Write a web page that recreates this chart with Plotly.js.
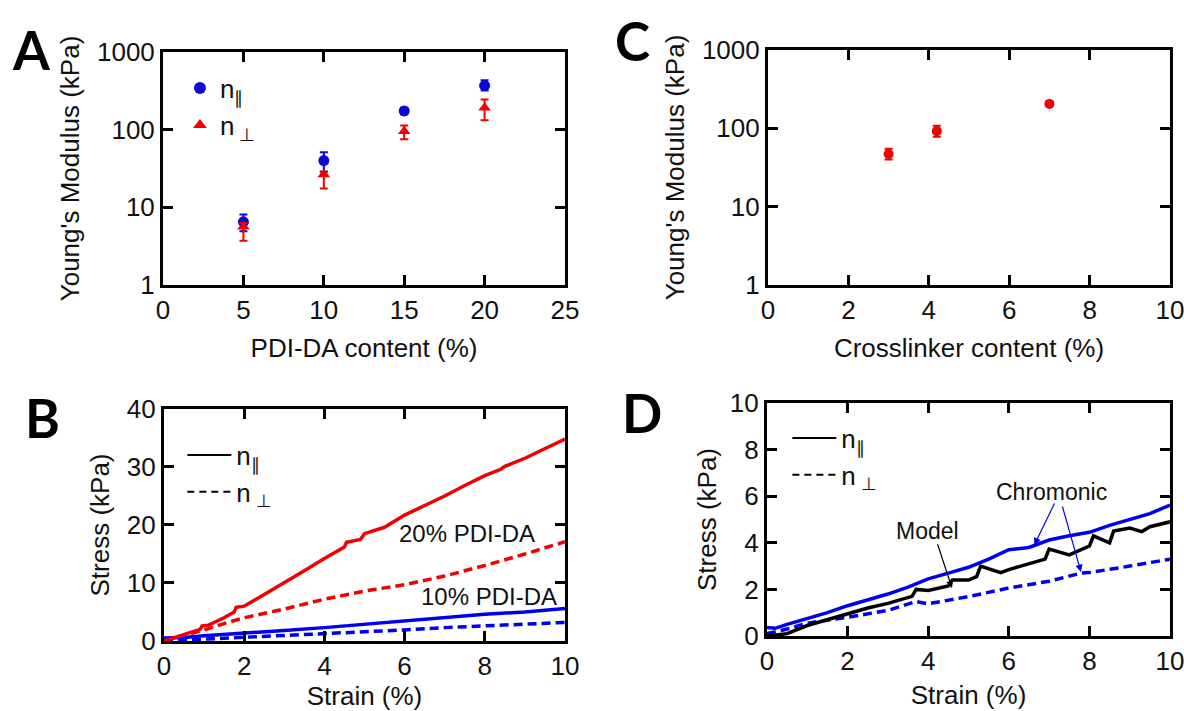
<!DOCTYPE html>
<html>
<head>
<meta charset="utf-8">
<script src="https://cdn.plot.ly/plotly-3.0.1.min.js"></script>
<style>
html,body{margin:0;padding:0;background:#fff;}
#chart{width:1184px;height:711px;}
</style>
</head>
<body>
<div id="chart"></div>
<script>
// ---------- Panel A: Young's modulus vs PDI-DA content ----------
const pdiContent = [5, 10, 15, 20];
const modParallel = [6.5, 40, 174, 370];
const modParallelHi = [8.1, 51, 192, 432];
const modParallelLo = [4.9, 29, 158, 318];
const modPerp = [5.6, 26.5, 95, 192];
const modPerpHi = [6.3, 28.5, 113, 245];
const modPerpLo = [3.7, 17.5, 75, 132];

// ---------- Panel C: Young's modulus vs crosslinker content ----------
const crossContent = [3.0, 4.2, 7.0];
const crossMod = [47, 92, 205];
const crossModHi = [55, 108, 212];
const crossModLo = [40, 78, 198];

// ---------- Panel B: stress-strain, PDI-DA ----------
const strainB20par = [0, 0.3, 0.6, 0.9, 0.95, 1.1, 1.5, 1.75, 1.8, 2.0, 2.5, 3.0, 3.5, 4.0, 4.5, 4.55, 4.9, 5.0, 5.5, 6.0, 6.5, 7.0, 7.5, 8.0, 8.4, 8.5, 9.0, 9.5, 10.0];
const stressB20par = [0, 0.7, 1.4, 2.0, 2.6, 2.7, 4.0, 5.0, 5.8, 6.0, 8.0, 10.0, 12.1, 14.2, 16.2, 17.0, 17.5, 18.5, 19.6, 21.7, 23.3, 25.0, 26.8, 28.5, 29.6, 30.1, 31.5, 33.2, 34.8];
const strainB20perp = [0, 0.5, 1.0, 1.5, 2.0, 3.0, 4.0, 5.0, 6.0, 7.0, 8.0, 9.0, 10.0];
const stressB20perp = [0, 0.9, 1.9, 3.0, 4.0, 5.5, 7.2, 8.6, 9.7, 11.2, 13.0, 15.0, 17.1];
const strainB10par = [0, 0.5, 1, 2, 3, 4, 5, 6, 7, 8, 9, 10];
const stressB10par = [0.5, 0.6, 0.9, 1.3, 1.8, 2.3, 2.9, 3.5, 4.0, 4.6, 5.0, 5.6];
const strainB10perp = [0, 1, 2, 3, 4, 5, 6, 7, 8, 9, 10];
const stressB10perp = [0, 0.3, 0.6, 0.95, 1.3, 1.6, 1.9, 2.3, 2.6, 2.9, 3.2];

// ---------- Panel D: chromonic vs model ----------
const strainDchrPar = [0, 0.2, 0.5, 1.0, 1.5, 2.0, 2.5, 3.0, 3.5, 4.0, 4.5, 5.0, 5.5, 6.0, 6.5, 7.0, 7.5, 8.0, 8.5, 9.0, 9.5, 10.0];
const stressDchrPar = [0.37, 0.33, 0.5, 0.75, 1.0, 1.3, 1.55, 1.8, 2.1, 2.45, 2.7, 2.95, 3.3, 3.7, 3.8, 4.12, 4.3, 4.45, 4.75, 5.0, 5.25, 5.62];
const strainDmodel = [0, 0.5, 1.0, 1.5, 2.0, 2.5, 3.0, 3.6, 3.7, 4.0, 4.5, 4.6, 5.0, 5.2, 5.3, 5.8, 6.0, 6.5, 6.9, 7.0, 7.5, 8.0, 8.1, 8.5, 8.6, 9.0, 9.3, 9.5, 10.0];
const stressDmodel = [0, 0.1, 0.45, 0.7, 0.95, 1.2, 1.4, 1.7, 2.0, 1.95, 2.15, 2.4, 2.4, 2.55, 3.0, 2.72, 2.85, 3.1, 3.3, 3.73, 3.48, 3.86, 4.3, 4.0, 4.5, 4.63, 4.48, 4.69, 4.9];
const strainDchrPerp = [0, 0.5, 1.0, 2.0, 3.0, 3.7, 4.0, 5.0, 6.0, 7.0, 7.8, 8.0, 9.0, 10.0];
const stressDchrPerp = [0.1, 0.3, 0.55, 0.8, 1.1, 1.48, 1.38, 1.69, 2.06, 2.35, 2.7, 2.72, 3.0, 3.3];

const logTickVals = [1, 10, 100, 1000];
const logTickText = ['1', '10', '100', '1000'];

const RED = '#f00000';
const BLUE = '#0000f0';
const DBLUE = '#0a0ad0';
const FONT = 'Liberation Sans, Arial, sans-serif';
const DASH = '9px,5px';
const LETTERFONT = {family: 'Lato, Liberation Sans, sans-serif', size: 53, color: '#000'};

function plus(v, hi) { return hi.map((h, i) => h - v[i]); }
function minus(v, lo) { return lo.map((l, i) => v[i] - l); }

const traces = [
  // A
  {x: pdiContent, y: modParallel, xaxis: 'x', yaxis: 'y', type: 'scatter', mode: 'markers',
   name: 'n<sub>∥</sub>', legend: 'legend',
   marker: {color: DBLUE, symbol: 'circle', size: 11},
   error_y: {type: 'data', symmetric: false, array: plus(modParallel, modParallelHi), arrayminus: minus(modParallel, modParallelLo), color: DBLUE, thickness: 2, width: 4}},
  {x: pdiContent, y: modPerp, xaxis: 'x', yaxis: 'y', type: 'scatter', mode: 'markers',
   name: 'n<sub> ⊥</sub>', legend: 'legend',
   marker: {color: RED, symbol: 'triangle-up', size: 11},
   error_y: {type: 'data', symmetric: false, array: plus(modPerp, modPerpHi), arrayminus: minus(modPerp, modPerpLo), color: RED, thickness: 2, width: 4}},
  // C
  {x: crossContent, y: crossMod, xaxis: 'x2', yaxis: 'y2', type: 'scatter', mode: 'markers', showlegend: false,
   marker: {color: RED, symbol: 'circle', size: 10},
   error_y: {type: 'data', symmetric: false, array: plus(crossMod, crossModHi), arrayminus: minus(crossMod, crossModLo), color: RED, thickness: 2, width: 4}},
  // B
  {x: strainB20perp, y: stressB20perp, xaxis: 'x3', yaxis: 'y3', mode: 'lines', showlegend: false,
   line: {color: RED, width: 3.5, dash: DASH}},
  {x: strainB10perp, y: stressB10perp, xaxis: 'x3', yaxis: 'y3', mode: 'lines', showlegend: false,
   line: {color: BLUE, width: 3.5, dash: DASH}},
  {x: strainB10par, y: stressB10par, xaxis: 'x3', yaxis: 'y3', mode: 'lines', showlegend: false,
   line: {color: BLUE, width: 3.5}},
  {x: strainB20par, y: stressB20par, xaxis: 'x3', yaxis: 'y3', mode: 'lines', showlegend: false,
   line: {color: RED, width: 3.5}},
  {x: [null], y: [null], xaxis: 'x3', yaxis: 'y3', mode: 'lines', name: 'n<sub>∥</sub>', legend: 'legend2',
   line: {color: '#000', width: 2}},
  {x: [null], y: [null], xaxis: 'x3', yaxis: 'y3', mode: 'lines', name: 'n<sub> ⊥</sub>', legend: 'legend2',
   line: {color: '#000', width: 2, dash: '7px,5px'}},
  // D
  {x: strainDchrPerp, y: stressDchrPerp, xaxis: 'x4', yaxis: 'y4', mode: 'lines', showlegend: false,
   line: {color: BLUE, width: 3.5, dash: DASH}},
  {x: strainDmodel, y: stressDmodel, xaxis: 'x4', yaxis: 'y4', mode: 'lines', showlegend: false,
   line: {color: '#000', width: 3.5}},
  {x: strainDchrPar, y: stressDchrPar, xaxis: 'x4', yaxis: 'y4', mode: 'lines', showlegend: false,
   line: {color: BLUE, width: 3.5}},
  {x: [null], y: [null], xaxis: 'x4', yaxis: 'y4', mode: 'lines', name: 'n<sub>∥</sub>', legend: 'legend3',
   line: {color: '#000', width: 2}},
  {x: [null], y: [null], xaxis: 'x4', yaxis: 'y4', mode: 'lines', name: 'n<sub> ⊥</sub>', legend: 'legend3',
   line: {color: '#000', width: 2, dash: '7px,5px'}}
];

function axisBase(extra) {
  return Object.assign({
    showline: true, linewidth: 3, linecolor: '#000', mirror: 'ticks',
    ticks: 'inside', ticklen: 10, tickwidth: 3, tickcolor: '#000',
    showgrid: false, zeroline: false, automargin: false,
    ticklabeloverflow: 'allow',
    tickfont: {family: FONT, size: 26, color: '#111'},
    fixedrange: true
  }, extra);
}
function ttl(text, standoff) {
  return {text: text, font: {family: FONT, size: 26, color: '#111'}, standoff: standoff};
}

const legendFont = {family: FONT, size: 26, color: '#111'};

const layout = {
  width: 1184, height: 711,
  margin: {l: 0, r: 0, t: 0, b: 0},
  paper_bgcolor: '#fff', plot_bgcolor: '#fff',
  font: {family: FONT, size: 24, color: '#111'},
  showlegend: true,
  // A
  xaxis: axisBase({domain: [0.1377, 0.4772], anchor: 'y', range: [0, 25], dtick: 5, tick0: 0,
    title: ttl('PDI-DA content (%)', 15)}),
  yaxis: axisBase({domain: [0.5992, 0.9269], anchor: 'x', type: 'log', range: [0, 3],
    tickvals: logTickVals, ticktext: logTickText, title: ttl("Young's Modulus (kPa)", 10)}),
  // C
  xaxis2: axisBase({domain: [0.6486, 0.9882], anchor: 'y2', range: [0, 10], dtick: 2, tick0: 0,
    title: ttl('Crosslinker content (%)', 15)}),
  yaxis2: axisBase({domain: [0.5992, 0.9297], anchor: 'x2', type: 'log', range: [0, 3],
    tickvals: logTickVals, ticktext: logTickText, title: ttl("Young's Modulus (kPa)", 10)}),
  // B
  xaxis3: axisBase({domain: [0.1385, 0.4772], anchor: 'y3', range: [0, 10], dtick: 2, tick0: 0,
    title: ttl('Strain (%)', 17)}),
  yaxis3: axisBase({domain: [0.0985, 0.4248], anchor: 'x3', range: [0, 40], dtick: 10, tick0: 0,
    title: ttl('Stress (kPa)', 10)}),
  // D
  xaxis4: axisBase({domain: [0.6478, 0.9882], anchor: 'y4', range: [0, 10], dtick: 2, tick0: 0,
    title: ttl('Strain (%)', 11)}),
  yaxis4: axisBase({domain: [0.1055, 0.4332], anchor: 'x4', range: [0, 10], dtick: 2, tick0: 0,
    title: ttl('Stress (kPa)', 6)}),
  legend: {x: 0.152, y: 0.909, xanchor: 'left', yanchor: 'top', bgcolor: 'rgba(0,0,0,0)',
    font: legendFont, tracegroupgap: 0, itemsizing: 'constant'},
  legend2: {x: 0.154, y: 0.393, xanchor: 'left', yanchor: 'top', bgcolor: 'rgba(0,0,0,0)',
    font: legendFont, tracegroupgap: 0, itemwidth: 44},
  legend3: {x: 0.665, y: 0.417, xanchor: 'left', yanchor: 'top', bgcolor: 'rgba(0,0,0,0)',
    font: legendFont, tracegroupgap: 0, itemwidth: 44},
  annotations: [
    {text: '<b>A</b>', xref: 'paper', yref: 'paper', x: 31 / 1184, y: 1 - 50 / 711, showarrow: false,
     xanchor: 'center', yanchor: 'middle', font: LETTERFONT},
    {text: '<b>C</b>', xref: 'paper', yref: 'paper', x: 632 / 1184, y: 1 - 40 / 711, showarrow: false,
     xanchor: 'center', yanchor: 'middle', font: LETTERFONT},
    {text: '<b>B</b>', xref: 'paper', yref: 'paper', x: 42 / 1184, y: 1 - 417 / 711, showarrow: false,
     xanchor: 'center', yanchor: 'middle', font: LETTERFONT},
    {text: '<b>D</b>', xref: 'paper', yref: 'paper', x: 642 / 1184, y: 1 - 412 / 711, showarrow: false,
     xanchor: 'center', yanchor: 'middle', font: LETTERFONT},
    {text: '20% PDI-DA', xref: 'x3', yref: 'y3', x: 7.55, y: 18.6, showarrow: false,
     font: {family: FONT, size: 24, color: '#111'}},
    {text: '10% PDI-DA', xref: 'x3', yref: 'y3', x: 8.1, y: 7.6, showarrow: false,
     font: {family: FONT, size: 24, color: '#111'}},
    {text: 'Model', xref: 'x4', yref: 'y4', x: 3.98, y: 4.5, showarrow: false,
     font: {family: FONT, size: 23, color: '#111'}},
    {text: '', xref: 'x4', yref: 'y4', axref: 'x4', ayref: 'y4', x: 4.59, y: 2.06, ax: 4.22, ay: 4.0,
     showarrow: true, arrowhead: 2, arrowsize: 1.2, arrowwidth: 1.2, arrowcolor: '#000'},
    {text: 'Chromonic', xref: 'x4', yref: 'y4', x: 7.07, y: 6.18, showarrow: false,
     font: {family: FONT, size: 23, color: '#111'}},
    {text: '', xref: 'x4', yref: 'y4', axref: 'x4', ayref: 'y4', x: 6.63, y: 3.9, ax: 7.15, ay: 5.75,
     showarrow: true, arrowhead: 2, arrowsize: 1.2, arrowwidth: 1.2, arrowcolor: BLUE},
    {text: '', xref: 'x4', yref: 'y4', axref: 'x4', ayref: 'y4', x: 7.79, y: 2.75, ax: 7.32, ay: 5.62,
     showarrow: true, arrowhead: 2, arrowsize: 1.2, arrowwidth: 1.2, arrowcolor: BLUE}
  ]
};

Plotly.newPlot('chart', traces, layout, {displayModeBar: false, staticPlot: true});
</script>
</body>
</html>
